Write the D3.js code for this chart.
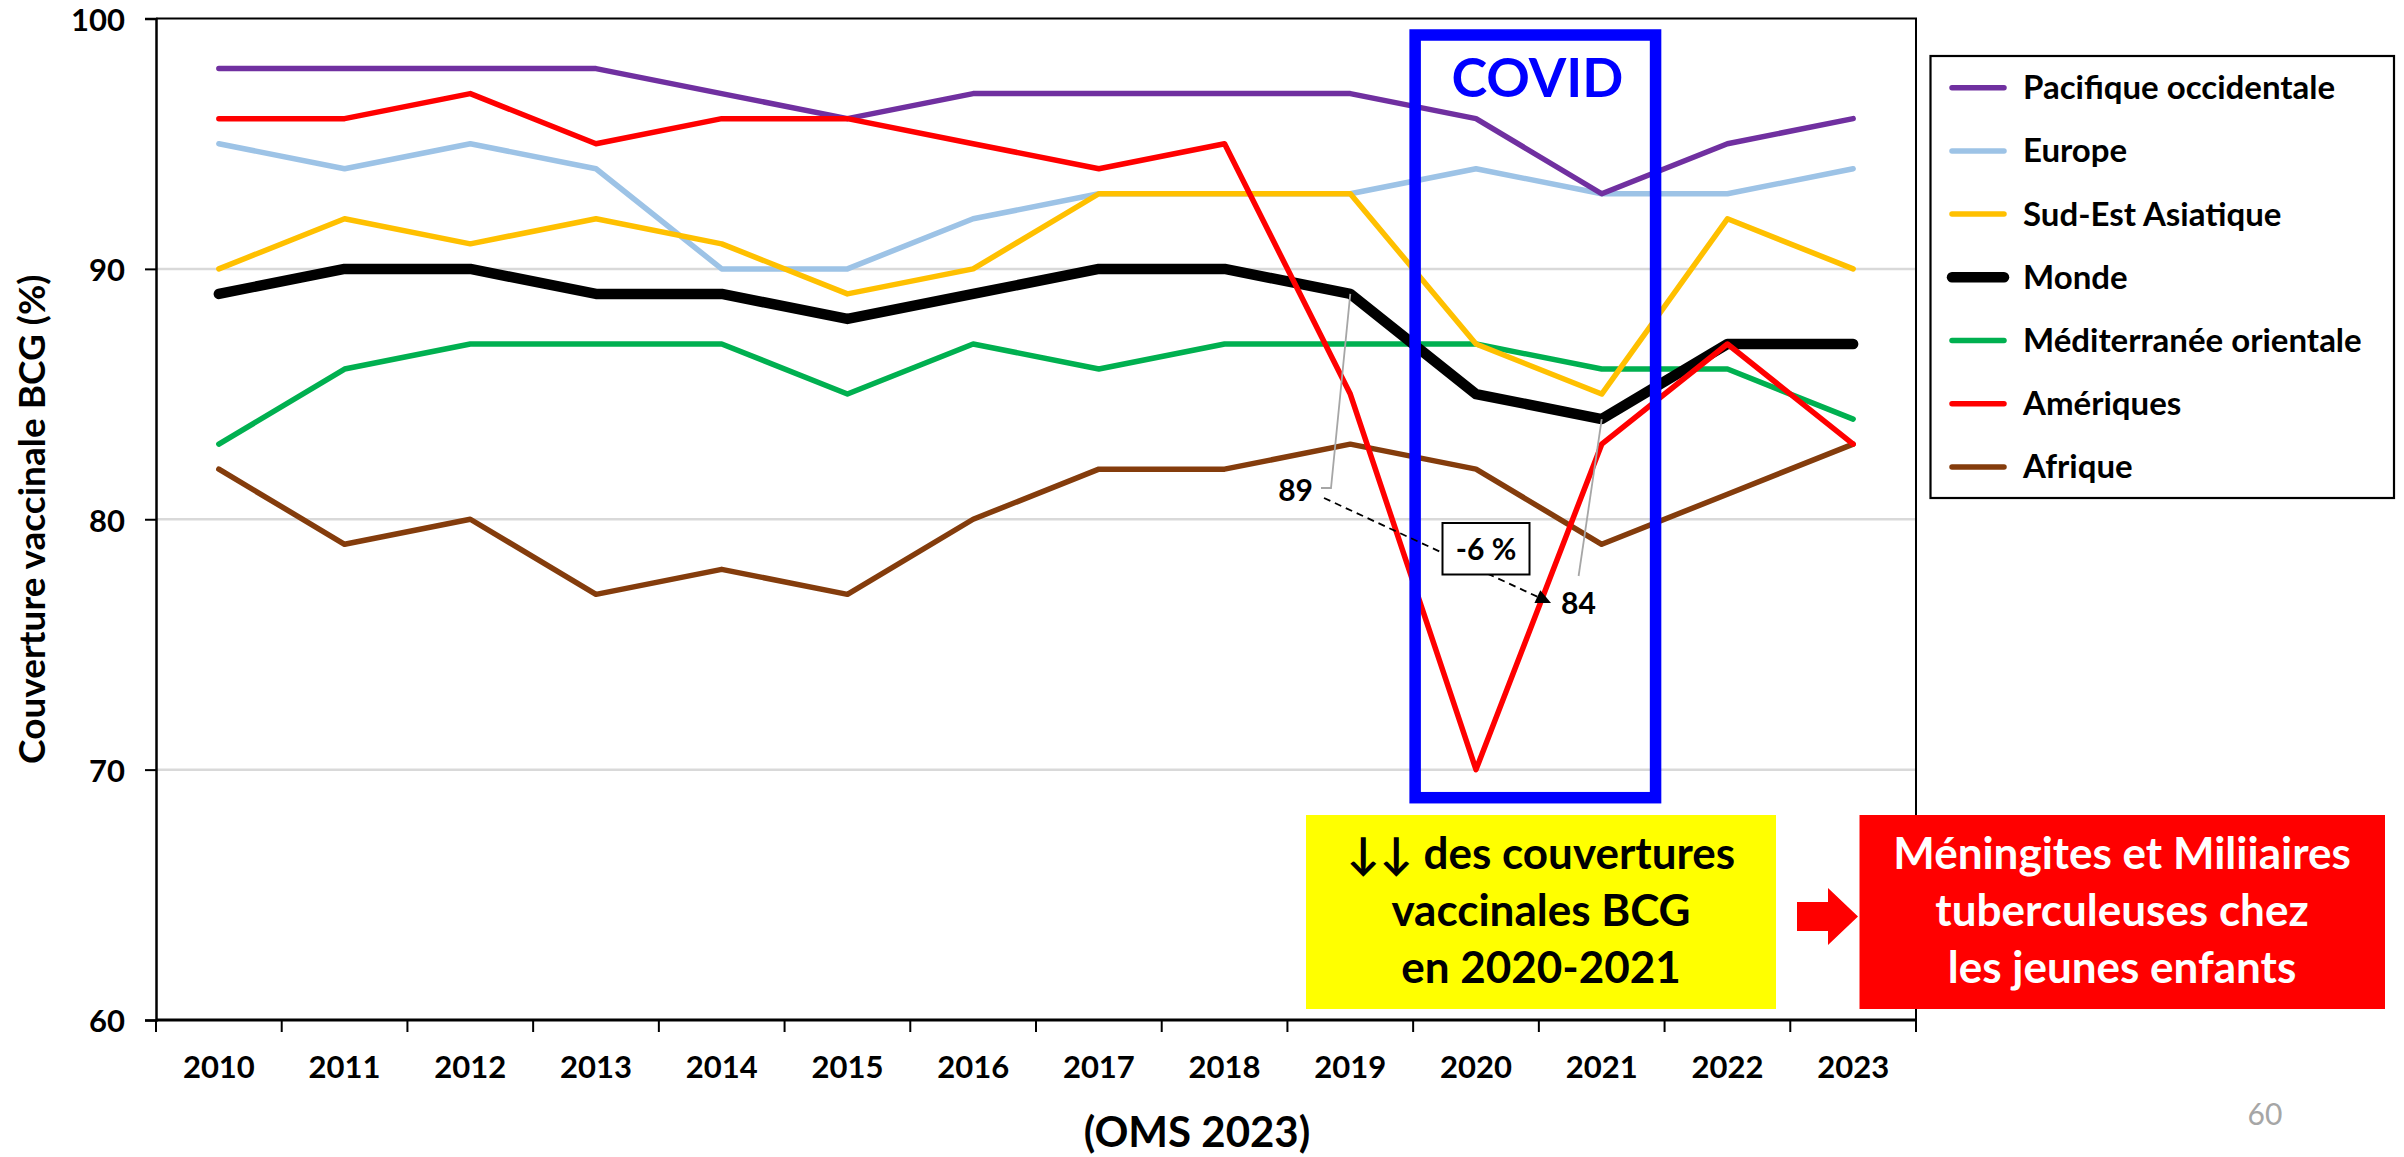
<!DOCTYPE html>
<html>
<head>
<meta charset="utf-8">
<script src="https://cdn.jsdelivr.net/npm/d3@7"></script>
<style>
  body { margin: 0; background: #ffffff; }
  svg { display: block; }
  text { font-family: "Lato", "Open Sans", "DejaVu Sans", sans-serif; font-weight: 700; }
</style>
</head>
<body>
<svg id="chart" width="2404" height="1157"></svg>
<script>
// Couverture vaccinale BCG (%) par région OMS, 2010-2023
const years = [2010, 2011, 2012, 2013, 2014, 2015, 2016, 2017, 2018, 2019, 2020, 2021, 2022, 2023];

const pacifiqueOccidental = [98, 98, 98, 98, 97, 96, 97, 97, 97, 97, 96, 93, 95, 96];
const europe              = [95, 94, 95, 94, 90, 90, 92, 93, 93, 93, 94, 93, 93, 94];
const sudEstAsiatique     = [90, 92, 91, 92, 91, 89, 90, 93, 93, 93, 87, 85, 92, 90];
const monde               = [89, 90, 90, 89, 89, 88, 89, 90, 90, 89, 85, 84, 87, 87];
const mediterranee        = [83, 86, 87, 87, 87, 85, 87, 86, 87, 87, 87, 86, 86, 84];
const ameriques           = [96, 96, 97, 95, 96, 96, 95, 94, 95, 85, 70, 83, 87, 83];
const afrique             = [82, 79, 80, 77, 78, 77, 80, 82, 82, 83, 82, 79, 81, 83];

const seriesNames  = ["Pacifique occidentale", "Europe", "Sud-Est Asiatique", "Monde",
                      "Méditerranée orientale", "Amériques", "Afrique"];
const seriesValues = [pacifiqueOccidental, europe, sudEstAsiatique, monde,
                      mediterranee, ameriques, afrique];
const seriesColors = ["#7030A0", "#9DC3E6", "#FFC000", "#000000", "#00B050", "#FF0000", "#843C0C"];
const seriesWidths = [5.5, 5.5, 5.5, 10.5, 5.5, 5.5, 5.5];
// stacking order of the lines, bottom first
const drawOrder = [6, 4, 1, 0, 2, 3, 5];

const yTicks = [60, 70, 80, 90, 100];
const gridValues = [70, 80, 90];

const svg = d3.select("#chart");

const x = d3.scaleBand().domain(years).range([156, 1916]).padding(0);
const y = d3.scaleLinear().domain([60, 100]).range([1020, 18.5]);
const cx = yr => x(yr) + x.bandwidth() / 2;

// gridlines
svg.append("g").selectAll("line").data(gridValues).join("line")
  .attr("x1", 156).attr("x2", 1916)
  .attr("y1", d => y(d)).attr("y2", d => y(d))
  .attr("stroke", "#D9D9D9").attr("stroke-width", 2.5);

// plot frame (top and right)
svg.append("path")
  .attr("d", `M156,${y(100)}H1916V${y(60)}`)
  .attr("fill", "none").attr("stroke", "#000").attr("stroke-width", 2);

// y axis
const yAxis = svg.append("g").attr("transform", "translate(156,0)")
  .call(d3.axisLeft(y).tickValues(yTicks).tickSize(11).tickPadding(20));
yAxis.select(".domain").attr("stroke", "#000").attr("stroke-width", 2.5);
yAxis.selectAll(".tick line").attr("stroke", "#000").attr("stroke-width", 2);
yAxis.selectAll(".tick text")
  .attr("fill", "#000").attr("dy", "0.38em")
  .style("font-size", "31px").style("font-family", "Lato").style("font-weight", 700);

// x axis: labels at band centres, ticks at band edges
const xAxis = svg.append("g").attr("transform", `translate(0,${y(60)})`)
  .call(d3.axisBottom(x).tickSize(0).tickPadding(36));
xAxis.select(".domain").remove();
xAxis.selectAll(".tick text")
  .attr("fill", "#000").style("font-size", "31px").style("font-family", "Lato").style("font-weight", 700);
const edges = years.map(d => x(d)).concat([x(years[years.length - 1]) + x.bandwidth()]);
xAxis.append("g").selectAll("line").data(edges).join("line")
  .attr("x1", d => d).attr("x2", d => d).attr("y1", 0).attr("y2", 12)
  .attr("stroke", "#000").attr("stroke-width", 2);
xAxis.append("line").attr("x1", 156).attr("x2", 1916).attr("y1", 0).attr("y2", 0)
  .attr("stroke", "#000").attr("stroke-width", 3);

// y axis title
svg.append("text")
  .attr("transform", `translate(45,${(y(60) + y(100)) / 2}) rotate(-90)`)
  .attr("text-anchor", "middle")
  .style("font-size", "37px")
  .text("Couverture vaccinale BCG (%)");

// series lines
const line = d3.line().x((d, i) => cx(years[i])).y(d => y(d));
svg.append("g").selectAll("path").data(drawOrder).join("path")
  .attr("d", i => line(seriesValues[i]))
  .attr("fill", "none")
  .attr("stroke", i => seriesColors[i])
  .attr("stroke-width", i => seriesWidths[i])
  .attr("stroke-linejoin", "round")
  .attr("stroke-linecap", "round");

// COVID frame over 2020-2021
const covidX0 = x(2020) + 2, covidX1 = x(2021) + x.bandwidth() - 9;
svg.append("rect")
  .attr("x", covidX0).attr("y", 35)
  .attr("width", covidX1 - covidX0).attr("height", 797.7 - 35)
  .attr("fill", "none").attr("stroke", "#0000FF").attr("stroke-width", 11.5);
svg.append("text")
  .attr("x", (covidX0 + covidX1) / 2 + 2).attr("y", 97)
  .attr("text-anchor", "middle").attr("fill", "#0000FF")
  .style("font-size", "54px").text("COVID");

// Monde 2019 -> 2021 annotation
const p19 = [cx(2019), y(monde[9])];
const p21 = [cx(2021), y(monde[11])];
svg.append("polyline")
  .attr("points", `${p19[0]},${p19[1]} 1331,488 1321,488`)
  .attr("fill", "none").attr("stroke", "#A6A6A6").attr("stroke-width", 1.8);
svg.append("line")
  .attr("x1", p21[0]).attr("y1", p21[1]).attr("x2", 1578.6).attr("y2", 576)
  .attr("stroke", "#A6A6A6").attr("stroke-width", 1.8);
svg.append("text").attr("x", 1313).attr("y", 490).attr("dy", "0.35em")
  .attr("text-anchor", "end").style("font-size", "30px").text(monde[9]);
svg.append("text").attr("x", 1561).attr("y", 603).attr("dy", "0.35em")
  .attr("text-anchor", "start").style("font-size", "30px").text(monde[11]);

// dashed arrow between the two labels
const a0 = [1324, 498], a1 = [1551, 603];
const ang = Math.atan2(a1[1] - a0[1], a1[0] - a0[0]);
const headLen = 15, headHalf = 7;
const base = [a1[0] - headLen * Math.cos(ang), a1[1] - headLen * Math.sin(ang)];
svg.append("line")
  .attr("x1", a0[0]).attr("y1", a0[1]).attr("x2", base[0]).attr("y2", base[1])
  .attr("stroke", "#000").attr("stroke-width", 1.8).attr("stroke-dasharray", "7,5");
svg.append("path")
  .attr("d", `M${a1[0]},${a1[1]}L${base[0] + headHalf * Math.sin(ang)},${base[1] - headHalf * Math.cos(ang)}L${base[0] - headHalf * Math.sin(ang)},${base[1] + headHalf * Math.cos(ang)}Z`)
  .attr("fill", "#000");
const pct = Math.round((monde[11] - monde[9]) / monde[9] * 100);
svg.append("rect").attr("x", 1442.5).attr("y", 523).attr("width", 87).attr("height", 51.5)
  .attr("fill", "#fff").attr("stroke", "#000").attr("stroke-width", 2);
svg.append("text").attr("x", 1486).attr("y", 549).attr("dy", "0.35em")
  .attr("text-anchor", "middle").style("font-size", "30px").text(`${pct} %`);

// legend
const legend = svg.append("g");
legend.append("rect").attr("x", 1930.5).attr("y", 56).attr("width", 463.5).attr("height", 442)
  .attr("fill", "#fff").attr("stroke", "#000").attr("stroke-width", 2.2);
const rows = legend.selectAll("g.row").data(seriesNames).join("g")
  .attr("class", "row")
  .attr("transform", (d, i) => `translate(0,${87.7 + i * 63.2})`);
rows.append("line")
  .attr("x1", 1952).attr("x2", 2004).attr("y1", 0).attr("y2", 0)
  .attr("stroke", (d, i) => seriesColors[i])
  .attr("stroke-width", (d, i) => seriesWidths[i])
  .attr("stroke-linecap", "round");
rows.append("text")
  .attr("x", 2023).attr("dy", "0.35em")
  .style("font-size", "33px").text(d => d);

// call-out boxes
const yellowLines = ["↓↓ des couvertures", "vaccinales BCG", "en 2020-2021"];
const redLines = ["Méningites et Miliiaires", "tuberculeuses chez", "les jeunes enfants"];
const lineBaselines = [869, 926, 983];

svg.append("rect").attr("x", 1306).attr("y", 815).attr("width", 470).attr("height", 194)
  .attr("fill", "#FFFF00");
svg.append("g").selectAll("text").data(yellowLines).join("text")
  .attr("x", 1541).attr("y", (d, i) => lineBaselines[i])
  .attr("text-anchor", "middle").attr("fill", "#000")
  .style("font-size", "44px").text(d => d);

svg.append("path")
  .attr("d", "M1797,902H1828V888L1858,916.5L1828,945V931H1797Z")
  .attr("fill", "#FF0000");

svg.append("rect").attr("x", 1859.5).attr("y", 815).attr("width", 525.5).attr("height", 194)
  .attr("fill", "#FF0000");
svg.append("g").selectAll("text").data(redLines).join("text")
  .attr("x", 2122).attr("y", (d, i) => lineBaselines[i])
  .attr("text-anchor", "middle").attr("fill", "#FFFFFF")
  .style("font-size", "44px").text(d => d);

// source and page number
svg.append("text").attr("x", 1197).attr("y", 1147)
  .attr("text-anchor", "middle").style("font-size", "42px").text("(OMS 2023)");
svg.append("text").attr("x", 2265).attr("y", 1125)
  .attr("text-anchor", "middle").attr("fill", "#A6A6A6")
  .style("font-weight", 400).style("font-size", "30px").text("60");
</script>
</body>
</html>
